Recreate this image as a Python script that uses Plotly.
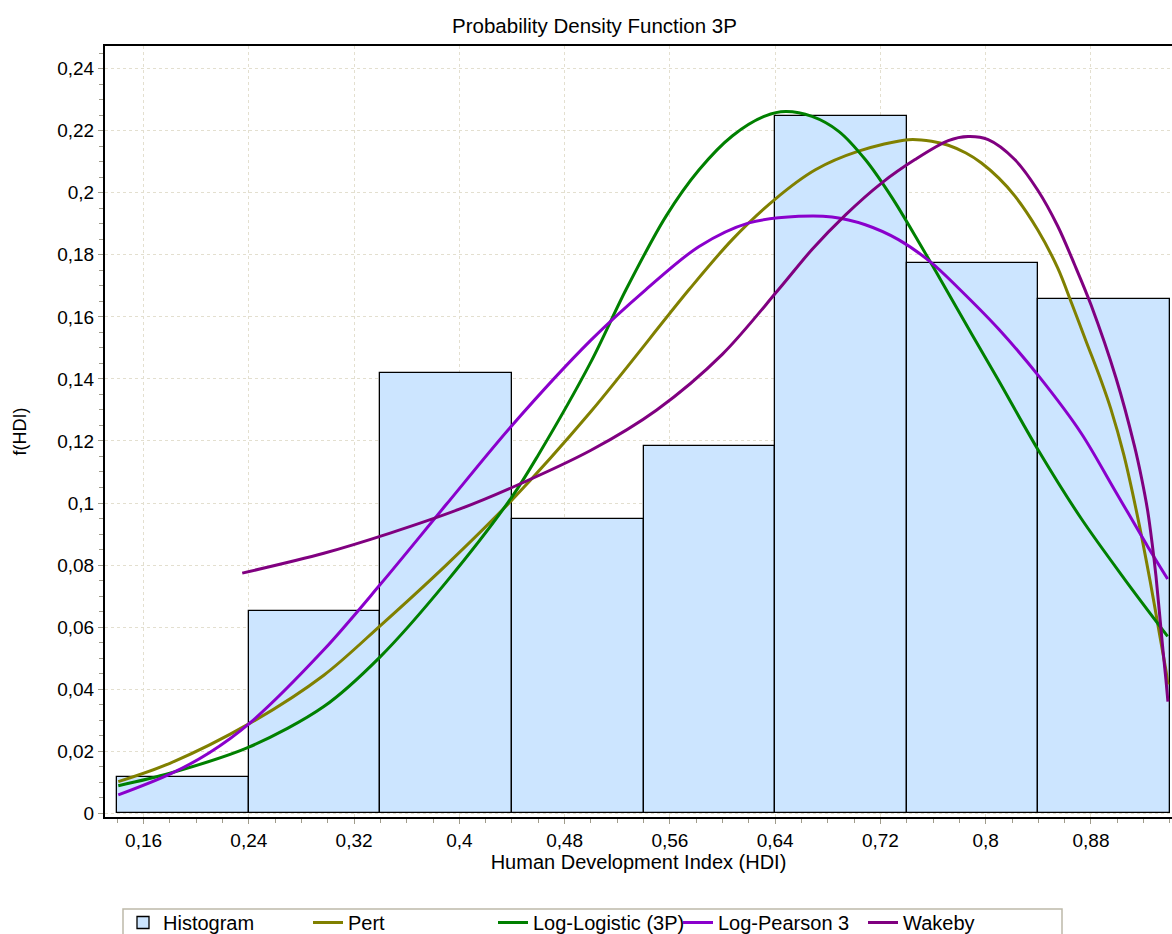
import plotly.graph_objects as go

# ---------------- data ----------------
bin_left = [0.14, 0.24, 0.34, 0.44, 0.54, 0.64, 0.74, 0.84]
hist_height = [0.0118, 0.0651, 0.1420, 0.0947, 0.1183, 0.2249, 0.1775, 0.1657]
bin_width = 0.1

pert_x = [0.1408, 0.18, 0.24, 0.297, 0.34, 0.39, 0.44, 0.50, 0.5746, 0.6074, 0.6396,
          0.6706, 0.7034, 0.7413, 0.7589, 0.7716, 0.785, 0.7968, 0.81, 0.8221, 0.8396,
          0.8548, 0.8654, 0.8768, 0.8877, 0.895, 0.905, 0.915, 0.925, 0.932, 0.937, 0.9385]
pert_y = [0.0102, 0.0161, 0.0288, 0.0445, 0.0605, 0.080, 0.101, 0.1295, 0.1688, 0.1849, 0.1978,
          0.2074, 0.2134, 0.2171, 0.2166, 0.2153, 0.2128, 0.2096, 0.2047, 0.1990, 0.1880,
          0.1757, 0.1643, 0.1516, 0.1395, 0.1305, 0.1155, 0.0965, 0.0748, 0.058, 0.046, 0.0415]

loglog_x = [0.1408, 0.18, 0.24, 0.297, 0.34, 0.39, 0.44, 0.46, 0.50, 0.5267, 0.557, 0.5822,
            0.6074, 0.6327, 0.648, 0.668, 0.6883, 0.7085, 0.7287, 0.7489, 0.7691, 0.79,
            0.8095, 0.84, 0.8726, 0.9055, 0.9383]
loglog_y = [0.0089, 0.0129, 0.0213, 0.0344, 0.0505, 0.0745, 0.102, 0.1155, 0.1455, 0.1688, 0.1924,
            0.2074, 0.2183, 0.2248, 0.2262, 0.2246, 0.2198, 0.2107, 0.1985, 0.1843, 0.1695,
            0.154, 0.1397, 0.117, 0.095, 0.0755, 0.057]

lp3_x = [0.1408, 0.18, 0.21, 0.24, 0.297, 0.34, 0.39, 0.44, 0.50, 0.5418, 0.5822, 0.6201,
         0.6579, 0.6832, 0.7085, 0.7337, 0.7589, 0.7792, 0.81, 0.8405, 0.8726, 0.8979,
         0.9231, 0.9383]
lp3_y = [0.0059, 0.0126, 0.0195, 0.0288, 0.0527, 0.0738, 0.0995, 0.125, 0.1525, 0.1688, 0.1827,
         0.1903, 0.1924, 0.1922, 0.1897, 0.1849, 0.1774, 0.1693, 0.156, 0.1408, 0.1225,
         0.1043, 0.086, 0.0755]

wakeby_x = [0.235, 0.297, 0.3474, 0.40, 0.44, 0.50, 0.55, 0.60, 0.6426, 0.668, 0.6933, 0.7211,
            0.7463, 0.7716, 0.7867, 0.8019, 0.8221, 0.8396, 0.8548, 0.8676, 0.8801, 0.8991,
            0.913, 0.9185, 0.9231, 0.9265, 0.9294, 0.9344, 0.937, 0.9385]
wakeby_y = [0.0774, 0.0838, 0.0903, 0.098, 0.105, 0.117, 0.130, 0.148, 0.1688, 0.1817, 0.1928,
            0.2032, 0.2107, 0.2168, 0.2181, 0.2171, 0.2107, 0.2008, 0.1892, 0.1768, 0.1638,
            0.1402, 0.1185, 0.1080, 0.0975, 0.0870, 0.0765, 0.0540, 0.043, 0.036]

x_tick_vals = [0.16, 0.24, 0.32, 0.40, 0.48, 0.56, 0.64, 0.72, 0.80, 0.88]
x_tick_labels = ["0,16", "0,24", "0,32", "0,4", "0,48", "0,56", "0,64", "0,72", "0,8", "0,88"]
y_tick_vals = [0, 0.02, 0.04, 0.06, 0.08, 0.10, 0.12, 0.14, 0.16, 0.18, 0.20, 0.22, 0.24]
y_tick_labels = ["0", "0,02", "0,04", "0,06", "0,08", "0,1", "0,12", "0,14", "0,16",
                 "0,18", "0,2", "0,22", "0,24"]

# ---------------- figure ----------------
FONT = "Liberation Sans, Arial, sans-serif"
fig = go.Figure()

fig.add_trace(go.Bar(
    x=bin_left, y=hist_height, width=[bin_width] * len(bin_left), offset=0,
    marker=dict(color="#CCE5FF", line=dict(color="black", width=1.3)),
    name="Histogram",
))

curves = [
    ("Pert", pert_x, pert_y, "#808000"),
    ("Log-Logistic (3P)", loglog_x, loglog_y, "#008000"),
    ("Log-Pearson 3", lp3_x, lp3_y, "#8A00CC"),
    ("Wakeby", wakeby_x, wakeby_y, "#800080"),
]
for name, xs, ys, col in curves:
    fig.add_trace(go.Scatter(
        x=xs, y=ys, mode="lines", name=name,
        line=dict(color=col, width=3, shape="spline", smoothing=0.9),
    ))

W, H = 1172, 934
ml, mr, mt, mb = 105, 0, 46, 117
plot_w = W - ml - mr
plot_h = H - mt - mb

leg_left_px, leg_right_px, leg_top_px = 123, 1062, 909
fig.add_shape(
    type="rect", xref="paper", yref="paper",
    x0=(leg_left_px - ml) / plot_w, x1=(leg_right_px - ml) / plot_w,
    y0=-(leg_top_px - (H - mb)) / plot_h, y1=-0.3,
    line=dict(color="#BDB9A9", width=1.5), fillcolor="rgba(0,0,0,0)", layer="above",
)

fig.update_layout(
    width=W, height=H,
    margin=dict(l=ml, r=mr, t=mt, b=mb, autoexpand=False),
    paper_bgcolor="white", plot_bgcolor="white",
    font=dict(family=FONT, size=19, color="black"),
    title=dict(text="Probability Density Function 3P", x=594.5 / W,
               xanchor="center", y=1 - 26 / H, yanchor="middle",
               font=dict(family=FONT, size=20.5, color="black")),
    bargap=0,
    showlegend=True,
    legend=dict(
        orientation="h", x=(leg_left_px - ml) / plot_w, xanchor="left",
        y=-(leg_top_px - 6 - (H - mb)) / plot_h, yanchor="top",
        entrywidth=140, entrywidthmode="pixels",
        bgcolor="rgba(0,0,0,0)", borderwidth=0,
        font=dict(family=FONT, size=20, color="black"),
        traceorder="normal",
    ),
    xaxis=dict(
        range=[0.1307, 0.9416], tickvals=x_tick_vals, ticktext=x_tick_labels,
        showline=True, linecolor="black", linewidth=2, mirror=True,
        ticks="outside", ticklen=5, tickcolor="#A09C8C", tickwidth=1,
        showgrid=True, gridcolor="#E3DFCF", griddash="dot", gridwidth=1,
        zeroline=False,
        minor=dict(dtick=0.02, tick0=0, ticks="outside", ticklen=4, tickcolor="#A09C8C",
                   showgrid=False),
        title=dict(text="Human Development Index (HDI)", standoff=3,
                   font=dict(family=FONT, size=20)),
        tickfont=dict(family=FONT, size=19),
    ),
    yaxis=dict(
        range=[-0.0012, 0.2473], tickvals=y_tick_vals, ticktext=y_tick_labels,
        showline=True, linecolor="black", linewidth=2, mirror=False,
        ticks="outside", ticklen=5, tickcolor="#A09C8C", tickwidth=1,
        showgrid=True, gridcolor="#E3DFCF", griddash="dot", gridwidth=1,
        zeroline=False,
        minor=dict(dtick=0.005, tick0=0, ticks="outside", ticklen=4, tickcolor="#A09C8C",
                   showgrid=False),
        title=dict(text="f(HDI)", standoff=26, font=dict(family=FONT, size=18)),
        tickfont=dict(family=FONT, size=19),
    ),
)

fig.write_html(
    "out.html",
    config={"displayModeBar": False},
    post_script="document.body.style.margin='0px'; document.body.style.overflow='hidden';",
)
